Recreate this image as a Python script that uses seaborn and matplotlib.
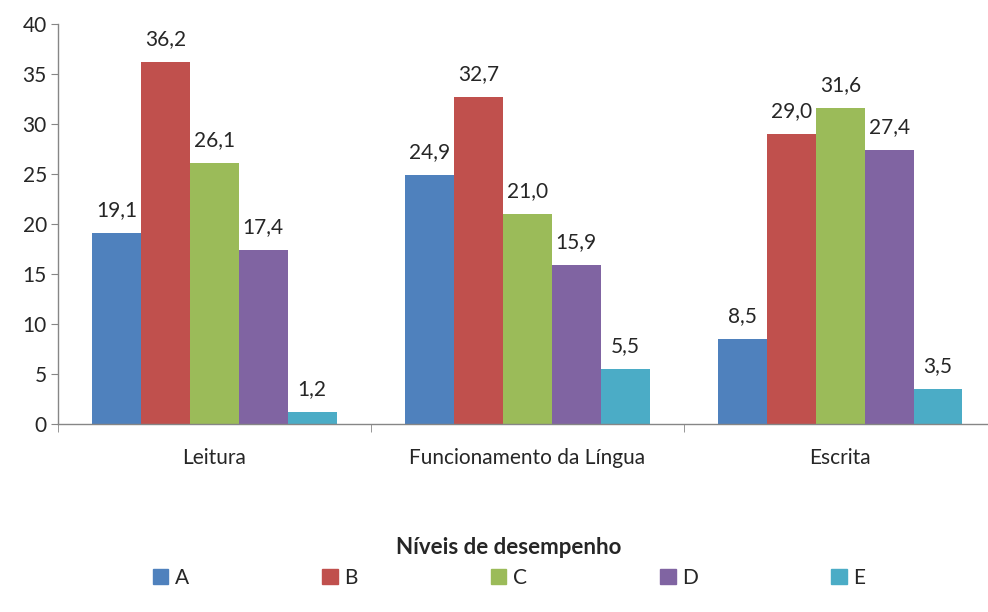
import matplotlib
import matplotlib.pyplot as plt
import seaborn as sns
import pandas as pd
matplotlib.use("Agg")

categories = ["Leitura", "Funcionamento da Língua", "Escrita"]
levels = ["A", "B", "C", "D", "E"]
leitura = [19.1, 36.2, 26.1, 17.4, 1.2]
funcionamento = [24.9, 32.7, 21.0, 15.9, 5.5]
escrita = [8.5, 29.0, 31.6, 27.4, 3.5]
colors = ["#4F81BD", "#C0504D", "#9BBB59", "#8064A2", "#4BACC6"]


def main():
    rows = []
    for cat, vals in zip(categories, [leitura, funcionamento, escrita]):
        for lvl, v in zip(levels, vals):
            rows.append({"area": cat, "nivel": lvl, "valor": v})
    df = pd.DataFrame(rows)

    sns.set_style("white")
    plt.rcParams["font.family"] = ["Lato", "DejaVu Sans"]
    fs = 15

    fig = plt.figure(figsize=(9.88, 6.12), dpi=100)
    ax = fig.add_axes([0.0587, 0.3072, 0.9503, 0.6536])
    sns.barplot(data=df, x="area", y="valor", hue="nivel", order=categories,
                hue_order=levels, palette=colors, width=0.78, gap=0,
                saturation=1, edgecolor="none", linewidth=0, ax=ax,
                legend=False)

    for cont in ax.containers:
        labels = [f"{v:.1f}".replace(".", ",") for v in cont.datavalues]
        ax.bar_label(cont, labels=labels, padding=9, fontsize=fs)

    ax.set_ylim(0, 40)
    ax.set_yticks(range(0, 41, 5))
    ax.set_xlim(-0.5, 2.5)
    ax.set_xticks([-0.5, 0.5, 1.5, 2.5], minor=True)
    ax.tick_params(axis="x", which="major", length=0, pad=17, labelsize=fs)
    ax.tick_params(axis="x", which="minor", length=6, color="#868686",
                   direction="out", bottom=True)
    ax.tick_params(axis="y", length=5, color="#868686", direction="out",
                   left=True, labelsize=fs, pad=3)
    ax.set_xlabel("")
    ax.set_ylabel("")
    for side in ["top", "right"]:
        ax.spines[side].set_visible(False)
    for side in ["left", "bottom"]:
        ax.spines[side].set_color("#868686")
        ax.spines[side].set_linewidth(1)

    fig.text(0.515, 0.106, "Níveis de desempenho", ha="center", va="center",
             fontsize=fs + 1, fontweight="bold")

    handles = [plt.Rectangle((0, 0), 1, 1, color=c) for c in colors]
    fig.legend(handles, levels, loc="center", bbox_to_anchor=(0.515, 0.0556),
               ncol=5, frameon=False, fontsize=fs, handlelength=0.75,
               handleheight=0.75, handletextpad=0.3, columnspacing=6.4)

    plt.savefig("out.png", dpi=100)
    plt.close()


if __name__ == "__main__":
    main()
